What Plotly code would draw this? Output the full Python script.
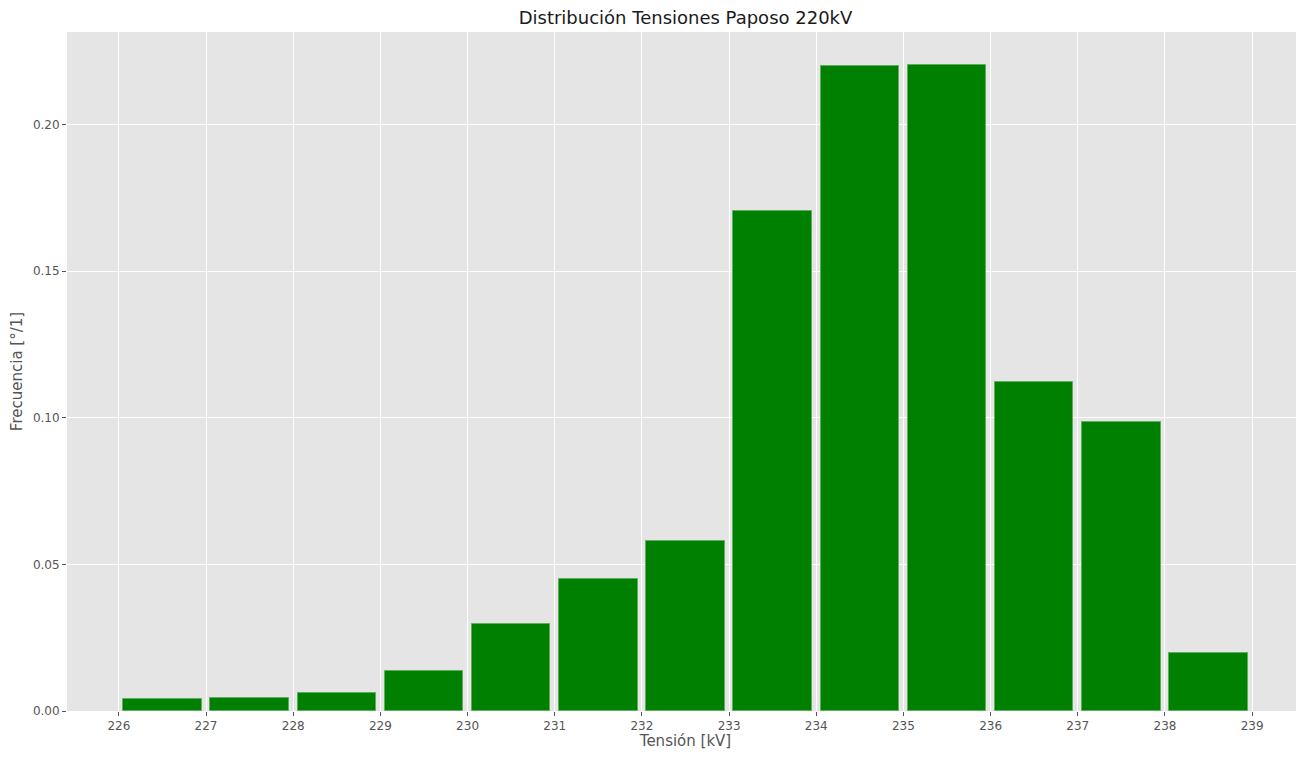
import plotly.graph_objects as go

bin_left = [226, 227, 228, 229, 230, 231, 232, 233, 234, 235, 236, 237, 238]
frecuencia = [0.0042, 0.0046, 0.0061, 0.0137, 0.0296, 0.0451, 0.0578,
              0.1704, 0.2198, 0.2203, 0.1123, 0.0984, 0.0197]
x_ticks = list(range(226, 240))
y_ticks = [0.0, 0.05, 0.10, 0.15, 0.20]

centers = [b + 0.5 for b in bin_left]

# the page body adds an 8px offset; the figure is sized to compensate
W, H = 1296, 742

fig = go.Figure()
fig.add_trace(go.Bar(
    x=centers, y=frecuencia, width=0.9,
    marker=dict(color="#008000", line=dict(color="#5fae5f", width=1)),
    showlegend=False,
))

font_family = "DejaVu Sans"
fig.update_layout(
    width=W, height=H,
    margin=dict(l=59, r=0, t=24, b=39, pad=0),
    paper_bgcolor="white",
    plot_bgcolor="#E5E5E5",
    font=dict(family=font_family, color="#555555"),
    title=dict(text="Distribución Tensiones Paposo 220kV",
               x=0.5, xref="paper", y=1 - 10 / H, yref="container",
               xanchor="center", yanchor="middle",
               font=dict(size=18, color="#1a1a1a", family=font_family)),
    bargap=0,
)
fig.update_xaxes(
    range=[225.405, 239.595], tickvals=x_ticks,
    showgrid=True, gridcolor="white", gridwidth=1,
    ticks="outside", ticklen=4, tickcolor="#555555", tickwidth=1,
    tickfont=dict(size=12, color="#555555"),
    zeroline=False, showline=False,
    title=dict(text="Tensión [kV]", font=dict(size=15, color="#555555"), standoff=3),
)
fig.update_yaxes(
    range=[0, 0.2315], tickvals=y_ticks, tickformat=".2f",
    showgrid=True, gridcolor="white", gridwidth=1,
    ticks="outside", ticklen=4, tickcolor="#555555", tickwidth=1,
    tickfont=dict(size=12, color="#555555"),
    zeroline=False, showline=False,
    title=dict(text="Frecuencia [°/1]", font=dict(size=15, color="#555555"), standoff=6),
)

fig.write_html("out.html")
